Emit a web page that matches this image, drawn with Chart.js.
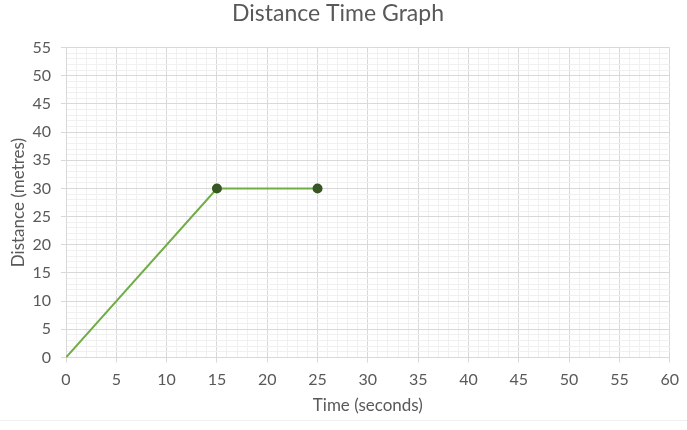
<!DOCTYPE html>
<html>
<head>
<meta charset="utf-8">
<script src="https://cdn.jsdelivr.net/npm/chart.js@4.4.1/dist/chart.umd.min.js"></script>
<style>
  html, body { margin: 0; padding: 0; background: #fff; }
  #wrap { position: relative; width: 687px; height: 430px; }
  #line { position: absolute; left: 0; top: 420px; width: 687px; height: 1px; background: #efefef; }
</style>
</head>
<body>
<div id="wrap">
  <canvas id="chart" width="687" height="430"></canvas>
  <div id="line"></div>
</div>
<script>
// data
const timeSeconds = [0, 15, 25];
const distanceMetres = [0, 30, 30];
const xMin = 0, xMax = 60, yMin = 0, yMax = 55;
const majorStep = 5; // labelled ticks, minor grid every 1

const textColor = "#595959";
const majorGrid = "#d9d9d9";
const minorGrid = "#f0f0f0";

const isMajor = (v) => Math.round(v) % majorStep === 0;

const points = timeSeconds.map((t, i) => ({ x: t, y: distanceMetres[i] }));

new Chart(document.getElementById("chart").getContext("2d"), {
  type: "line",
  data: {
    datasets: [
      {
        label: "Distance",
        data: points,
        borderColor: "#70ad47",
        borderWidth: 2,
        pointBackgroundColor: "#375623",
        pointBorderColor: "#375623",
        pointRadius: (ctx) => (ctx.dataIndex === 0 ? 0 : 4),
        tension: 0,
      },
    ],
  },
  options: {
    responsive: false,
    animation: false,
    devicePixelRatio: 1,
    layout: { padding: { left: 4, right: 15, top: 0, bottom: 10 } },
    plugins: {
      legend: { display: false },
      tooltip: { enabled: false },
      title: {
        display: true,
        text: "Distance Time Graph",
        color: textColor,
        font: { family: "Lato", size: 23, weight: "normal" },
        padding: { top: 0, bottom: 20 },
      },
    },
    scales: {
      x: {
        type: "linear",
        min: xMin,
        max: xMax,
        afterFit: (scale) => { scale.height = 62.5; },
        ticks: {
          stepSize: 1,
          autoSkip: false,
          maxRotation: 0,
          padding: 8,
          color: textColor,
          font: { family: "Lato", size: 16 },
          callback: (v) => (isMajor(v) ? v : ""),
        },
        grid: {
          color: (ctx) => (isMajor(ctx.tick.value) ? majorGrid : minorGrid),
          tickColor: (ctx) => (isMajor(ctx.tick.value) ? majorGrid : "rgba(0,0,0,0)"),
          tickLength: 5,
        },
        border: { color: majorGrid },
        title: {
          display: true,
          text: "Time (seconds)",
          color: textColor,
          font: { family: "Lato", size: 17 },
        },
      },
      y: {
        min: yMin,
        max: yMax,
        afterFit: (scale) => { scale.width = 62; },
        ticks: {
          stepSize: 1,
          autoSkip: false,
          padding: 10,
          color: textColor,
          font: { family: "Lato", size: 16 },
          callback: (v) => (isMajor(v) ? v : ""),
        },
        grid: {
          color: (ctx) => (isMajor(ctx.tick.value) ? majorGrid : minorGrid),
          tickColor: (ctx) => (isMajor(ctx.tick.value) ? majorGrid : "rgba(0,0,0,0)"),
          tickLength: 5,
        },
        border: { color: majorGrid },
        title: {
          display: true,
          text: "Distance (metres)",
          color: textColor,
          font: { family: "Lato", size: 17 },
        },
      },
    },
  },
});
</script>
</body>
</html>
